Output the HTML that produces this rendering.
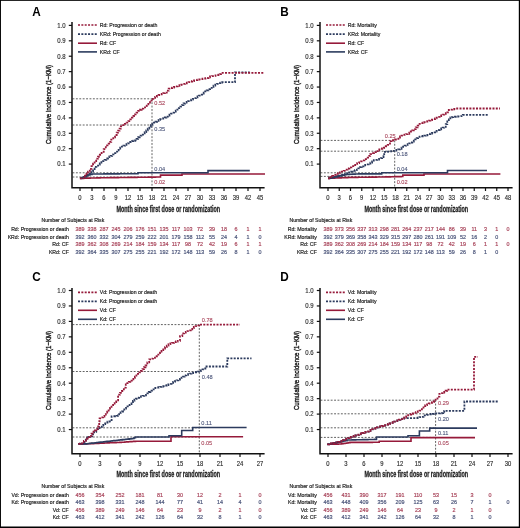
<!DOCTYPE html>
<html><head><meta charset="utf-8"><style>
html,body{margin:0;padding:0;background:#fff;}
svg{display:block;filter:blur(0.3px);}
svg text{font-family:"Liberation Sans", sans-serif;}
svg text.s{stroke-width:0.18;paint-order:stroke;}
</style></head><body>
<svg width="520" height="528" viewBox="0 0 520 528">
<rect x="0" y="0" width="520" height="528" fill="#fff"/>
<g transform="translate(0 0)">
<text transform="translate(32.3 15.5) scale(0.92 1)" x="0" y="0" font-size="12.8" font-weight="bold" fill="#000" style="stroke-width:0" class="s" stroke="#000">A</text>
<line x1="72.5" y1="98.8" x2="152" y2="98.8" stroke="#626262" stroke-width="1" stroke-dasharray="1.9 1.5"/>
<line x1="72.5" y1="125" x2="152" y2="125" stroke="#626262" stroke-width="1" stroke-dasharray="1.9 1.5"/>
<line x1="72.5" y1="172.8" x2="152" y2="172.8" stroke="#626262" stroke-width="1" stroke-dasharray="1.9 1.5"/>
<line x1="72.5" y1="177" x2="152" y2="177" stroke="#626262" stroke-width="1" stroke-dasharray="1.9 1.5"/>
<line x1="152" y1="98.8" x2="152" y2="187" stroke="#626262" stroke-width="1" stroke-dasharray="1.9 1.5"/>
<path d="M80 178.3H81.67V178.26H83.33V178.22H85V178.18H86.67V178.13H88.33V178.09H90V178.05H91.67V178.01H93.33V177.97H95V177.93H96.67V177.88H98.33V177.84H100V177.8H101.68V177.78H103.36V177.76H105.04V177.73H106.72V177.71H108.4V177.69H110.08V177.67H111.76V177.64H113.44V177.62H115.12V177.6H116.81V177.58H118.49V177.56H120.17V177.53H121.85V177.51H123.53V177.49H125.21V177.47H126.89V177.44H128.57V177.42H130.25V177.4H131.93V177.38H133.61V177.36H135.29V177.33H136.97V177.31H138.65V177.29H140.33V177.27H142.01V177.24H143.69V177.22H145.38V177.2H147.06V177.18H148.74V177.16H150.42V177.13H152.1V177.11H153.78V177.09H155.46V177.07H157.14V177.04H158.82V177.02H160.5V177V175.1H182V174H265" fill="none" stroke="#961a3a" stroke-width="1.6"/>
<path d="M80 178.3H82V177.55H84V176.8H86V175.9H88V175H90V174.5H92V174H93.7V173.99H95.41V173.98H97.11V173.97H98.81V173.96H100.52V173.94H102.22V173.93H103.93V173.92H105.63V173.91H107.33V173.9H109.04V173.89H110.74V173.88H112.44V173.87H114.15V173.86H115.85V173.84H117.56V173.83H119.26V173.82H120.96V173.81H122.67V173.8H124.37V173.79H126.07V173.78H127.78V173.77H129.48V173.76H131.19V173.74H132.89V173.73H134.59V173.72H136.3V173.71H138V173.7V172.8H208V170.6H249.8" fill="none" stroke="#2c3b5e" stroke-width="1.6"/>
<path d="M80 178.3H81.77V177.57H83.53V176.83H85.3V176.1H86.85V174.93H88.4V173.75H89.95V172.57H91.5V171.4H93.05V169.1H94.6V166.8H96.33V165.7H98.07V164.6H99.8V163.5H101.4V162.27H103V161.03H104.6V159.8H106.3V158.5H108V157.2H109.4V156.5H110.8V155.8H112.15V154.45H113.5V153.1H115.35V151.7H117.2V150.3H118.6V148.5H120.2V147.55H121.8V146.6H123.45V145.7H125.1V144.8H126.45V144.1H127.8V143.4H130.2V142H132V141.1H133.5V140.75H135V140.4H136.57V138.83H138.13V137.27H139.7V135.7H141.37V134.53H143.03V133.37H144.7V132.2H146.23V130.4H147.77V128.6H149.3V126.8H150.85V125.25H152.4V123.7H153.95V122.72H155.5V121.75H157.05V120.78H158.6V119.8H160.15V119.22H161.7V118.65H163.25V118.08H164.8V117.5H166.35V116.53H167.9V115.55H169.45V114.57H171V113.6H172.57V112.62H174.15V111.65H175.73V110.67H177.3V109.7H178.85V108.15H180.4V106.6H181.95V105.05H183.5V103.5H185.05V102.72H186.6V101.95H188.15V101.18H189.7V100.4H191.26V99.62H192.82V98.84H194.38V98.06H195.94V97.28H197.5V96.5H199.05V95.53H200.6V94.55H202.15V93.57H203.7V92.6H205.2V91.45H206.7V90.3H208.4V89.12H210.1V87.95H211.8V86.77H213.5V85.6H215.27V84.77H217.03V83.93H218.8V83.1H220.5V82.65H222.2V82.2H235V72.4H249.8" fill="none" stroke="#2c3b5e" stroke-width="1.8" stroke-dasharray="2 1.3"/>
<path d="M79.8 178.4H81.65V178.25H83.5V178.1H85V175.6H86.5V173.6H88V171.6H89.75V168.9H91.5V166.2H93.07V163.7H94.63V161.2H96.2V158.7H98V156.73H99.8V154.77H101.6V152.8H103.7V149.1H105.8V145.4H107.5V143.65H109.2V141.9H111.25V139.6H113.3V137.3H115V135H116.7V132.7H118.15V130.7H119.6V128.7H120.8V126.3H123.1V125.2H124.83V123.87H126.57V122.53H128.3V121.2H130.3V119.4H131.86V117.7H133.42V116H134.98V114.3H136.54V112.6H138.1V110.9H139.85V109.73H141.6V108.55H143.35V107.38H145.1V106.2H146.72V104.35H148.35V102.5H149.97V100.65H151.6V98.8H153.35V97.85H155.1V96.9H156.85V95.95H158.6V95H160.15V94.4H161.7V93.8H163.25V93.2H164.8V92.6H166.75V90.65H168.7V88.7H170.45V88.12H172.2V87.55H173.95V86.98H175.7V86.4H177.56V85.78H179.42V85.16H181.28V84.54H183.14V83.92H185V83.3H186.8V82.72H188.6V82.14H190.4V81.56H192.2V80.98H194V80.4H195.75V80.05H197.5V79.7H199.25V79.35H201V79H202.5V78.75H204V78.5H205.5V78.25H207V78H208.5V77.25H210V76.5H212V76.15H214V75.8H215.5V75.4H217V75H218.5V74.6H220V74.2H221V72.8H264" fill="none" stroke="#961a3a" stroke-width="1.8" stroke-dasharray="2 1.3"/>
<path d="M72 22V187.7H264.6" fill="none" stroke="#111" stroke-width="1.5"/>
<line x1="68.8" y1="164.09" x2="72" y2="164.09" stroke="#111" stroke-width="1.2"/>
<text transform="translate(65.7 166.39) scale(0.91 1)" x="0" y="0" font-size="6.6" text-anchor="end" fill="#2a2a2a" style="stroke-width:0.14" class="s" stroke="#2a2a2a">0.1</text>
<line x1="68.8" y1="148.68" x2="72" y2="148.68" stroke="#111" stroke-width="1.2"/>
<text transform="translate(65.7 150.98) scale(0.91 1)" x="0" y="0" font-size="6.6" text-anchor="end" fill="#2a2a2a" style="stroke-width:0.14" class="s" stroke="#2a2a2a">0.2</text>
<line x1="68.8" y1="133.27" x2="72" y2="133.27" stroke="#111" stroke-width="1.2"/>
<text transform="translate(65.7 135.57) scale(0.91 1)" x="0" y="0" font-size="6.6" text-anchor="end" fill="#2a2a2a" style="stroke-width:0.14" class="s" stroke="#2a2a2a">0.3</text>
<line x1="68.8" y1="117.86" x2="72" y2="117.86" stroke="#111" stroke-width="1.2"/>
<text transform="translate(65.7 120.16) scale(0.91 1)" x="0" y="0" font-size="6.6" text-anchor="end" fill="#2a2a2a" style="stroke-width:0.14" class="s" stroke="#2a2a2a">0.4</text>
<line x1="68.8" y1="102.45" x2="72" y2="102.45" stroke="#111" stroke-width="1.2"/>
<text transform="translate(65.7 104.75) scale(0.91 1)" x="0" y="0" font-size="6.6" text-anchor="end" fill="#2a2a2a" style="stroke-width:0.14" class="s" stroke="#2a2a2a">0.5</text>
<line x1="68.8" y1="87.04" x2="72" y2="87.04" stroke="#111" stroke-width="1.2"/>
<text transform="translate(65.7 89.34) scale(0.91 1)" x="0" y="0" font-size="6.6" text-anchor="end" fill="#2a2a2a" style="stroke-width:0.14" class="s" stroke="#2a2a2a">0.6</text>
<line x1="68.8" y1="71.63" x2="72" y2="71.63" stroke="#111" stroke-width="1.2"/>
<text transform="translate(65.7 73.93) scale(0.91 1)" x="0" y="0" font-size="6.6" text-anchor="end" fill="#2a2a2a" style="stroke-width:0.14" class="s" stroke="#2a2a2a">0.7</text>
<line x1="68.8" y1="56.22" x2="72" y2="56.22" stroke="#111" stroke-width="1.2"/>
<text transform="translate(65.7 58.52) scale(0.91 1)" x="0" y="0" font-size="6.6" text-anchor="end" fill="#2a2a2a" style="stroke-width:0.14" class="s" stroke="#2a2a2a">0.8</text>
<line x1="68.8" y1="40.81" x2="72" y2="40.81" stroke="#111" stroke-width="1.2"/>
<text transform="translate(65.7 43.11) scale(0.91 1)" x="0" y="0" font-size="6.6" text-anchor="end" fill="#2a2a2a" style="stroke-width:0.14" class="s" stroke="#2a2a2a">0.9</text>
<line x1="68.8" y1="25.4" x2="72" y2="25.4" stroke="#111" stroke-width="1.2"/>
<text transform="translate(65.7 27.7) scale(0.91 1)" x="0" y="0" font-size="6.6" text-anchor="end" fill="#2a2a2a" style="stroke-width:0.14" class="s" stroke="#2a2a2a">1.0</text>
<line x1="80" y1="187.7" x2="80" y2="191" stroke="#111" stroke-width="1.2"/>
<text transform="translate(80 200.1) scale(0.9 1)" x="0" y="0" font-size="6.5" text-anchor="middle" fill="#2a2a2a" style="stroke-width:0.14" class="s" stroke="#2a2a2a">0</text>
<line x1="92" y1="187.7" x2="92" y2="191" stroke="#111" stroke-width="1.2"/>
<text transform="translate(92 200.1) scale(0.9 1)" x="0" y="0" font-size="6.5" text-anchor="middle" fill="#2a2a2a" style="stroke-width:0.14" class="s" stroke="#2a2a2a">3</text>
<line x1="104" y1="187.7" x2="104" y2="191" stroke="#111" stroke-width="1.2"/>
<text transform="translate(104 200.1) scale(0.9 1)" x="0" y="0" font-size="6.5" text-anchor="middle" fill="#2a2a2a" style="stroke-width:0.14" class="s" stroke="#2a2a2a">6</text>
<line x1="116" y1="187.7" x2="116" y2="191" stroke="#111" stroke-width="1.2"/>
<text transform="translate(116 200.1) scale(0.9 1)" x="0" y="0" font-size="6.5" text-anchor="middle" fill="#2a2a2a" style="stroke-width:0.14" class="s" stroke="#2a2a2a">9</text>
<line x1="128" y1="187.7" x2="128" y2="191" stroke="#111" stroke-width="1.2"/>
<text transform="translate(128 200.1) scale(0.9 1)" x="0" y="0" font-size="6.5" text-anchor="middle" fill="#2a2a2a" style="stroke-width:0.14" class="s" stroke="#2a2a2a">12</text>
<line x1="140" y1="187.7" x2="140" y2="191" stroke="#111" stroke-width="1.2"/>
<text transform="translate(140 200.1) scale(0.9 1)" x="0" y="0" font-size="6.5" text-anchor="middle" fill="#2a2a2a" style="stroke-width:0.14" class="s" stroke="#2a2a2a">15</text>
<line x1="152" y1="187.7" x2="152" y2="191" stroke="#111" stroke-width="1.2"/>
<text transform="translate(152 200.1) scale(0.9 1)" x="0" y="0" font-size="6.5" text-anchor="middle" fill="#2a2a2a" style="stroke-width:0.14" class="s" stroke="#2a2a2a">18</text>
<line x1="164" y1="187.7" x2="164" y2="191" stroke="#111" stroke-width="1.2"/>
<text transform="translate(164 200.1) scale(0.9 1)" x="0" y="0" font-size="6.5" text-anchor="middle" fill="#2a2a2a" style="stroke-width:0.14" class="s" stroke="#2a2a2a">21</text>
<line x1="176" y1="187.7" x2="176" y2="191" stroke="#111" stroke-width="1.2"/>
<text transform="translate(176 200.1) scale(0.9 1)" x="0" y="0" font-size="6.5" text-anchor="middle" fill="#2a2a2a" style="stroke-width:0.14" class="s" stroke="#2a2a2a">24</text>
<line x1="188" y1="187.7" x2="188" y2="191" stroke="#111" stroke-width="1.2"/>
<text transform="translate(188 200.1) scale(0.9 1)" x="0" y="0" font-size="6.5" text-anchor="middle" fill="#2a2a2a" style="stroke-width:0.14" class="s" stroke="#2a2a2a">27</text>
<line x1="200" y1="187.7" x2="200" y2="191" stroke="#111" stroke-width="1.2"/>
<text transform="translate(200 200.1) scale(0.9 1)" x="0" y="0" font-size="6.5" text-anchor="middle" fill="#2a2a2a" style="stroke-width:0.14" class="s" stroke="#2a2a2a">30</text>
<line x1="212" y1="187.7" x2="212" y2="191" stroke="#111" stroke-width="1.2"/>
<text transform="translate(212 200.1) scale(0.9 1)" x="0" y="0" font-size="6.5" text-anchor="middle" fill="#2a2a2a" style="stroke-width:0.14" class="s" stroke="#2a2a2a">33</text>
<line x1="224" y1="187.7" x2="224" y2="191" stroke="#111" stroke-width="1.2"/>
<text transform="translate(224 200.1) scale(0.9 1)" x="0" y="0" font-size="6.5" text-anchor="middle" fill="#2a2a2a" style="stroke-width:0.14" class="s" stroke="#2a2a2a">36</text>
<line x1="236" y1="187.7" x2="236" y2="191" stroke="#111" stroke-width="1.2"/>
<text transform="translate(236 200.1) scale(0.9 1)" x="0" y="0" font-size="6.5" text-anchor="middle" fill="#2a2a2a" style="stroke-width:0.14" class="s" stroke="#2a2a2a">39</text>
<line x1="248" y1="187.7" x2="248" y2="191" stroke="#111" stroke-width="1.2"/>
<text transform="translate(248 200.1) scale(0.9 1)" x="0" y="0" font-size="6.5" text-anchor="middle" fill="#2a2a2a" style="stroke-width:0.14" class="s" stroke="#2a2a2a">42</text>
<line x1="260" y1="187.7" x2="260" y2="191" stroke="#111" stroke-width="1.2"/>
<text transform="translate(260 200.1) scale(0.9 1)" x="0" y="0" font-size="6.5" text-anchor="middle" fill="#2a2a2a" style="stroke-width:0.14" class="s" stroke="#2a2a2a">45</text>
<text x="116.4" y="211.5" font-size="8.8" font-weight="bold" fill="#222" style="stroke-width:0.3" textLength="103.8" lengthAdjust="spacingAndGlyphs" class="s" stroke="#222">Month since first dose or randomization</text>
<text transform="translate(50.5 144.1) rotate(-90)" x="0" y="0" font-size="7.9" fill="#222" style="stroke-width:0.4" textLength="79.2" lengthAdjust="spacingAndGlyphs" class="s" stroke="#222">Cumulative incidence (1&#8722;KM)</text>
<line x1="78" y1="25.0" x2="97" y2="25.0" stroke="#961a3a" stroke-width="1.7" stroke-dasharray="2.0 1.35"/>
<text x="99.7" y="26.85" font-size="5.2" fill="#262626" class="s" stroke="#262626">Rd: Progression or death</text>
<line x1="78" y1="34.2" x2="97" y2="34.2" stroke="#2c3b5e" stroke-width="1.7" stroke-dasharray="2.0 1.35"/>
<text x="99.7" y="36.05" font-size="5.2" fill="#262626" class="s" stroke="#262626">KRd: Progression or death</text>
<line x1="78" y1="43.2" x2="97" y2="43.2" stroke="#961a3a" stroke-width="1.6"/>
<text x="99.7" y="45.05" font-size="5.2" fill="#262626" class="s" stroke="#262626">Rd: CF</text>
<line x1="78" y1="51.9" x2="97" y2="51.9" stroke="#2c3b5e" stroke-width="1.6"/>
<text x="99.7" y="53.75" font-size="5.2" fill="#262626" class="s" stroke="#262626">KRd: CF</text>
<text x="154.3" y="105.2" font-size="5.6" fill="#a8445a" style="stroke-width:0.1" class="s" stroke="#a8445a">0.52</text>
<text x="154.3" y="130.8" font-size="5.6" fill="#4a5479" style="stroke-width:0.1" class="s" stroke="#4a5479">0.35</text>
<text x="154.3" y="170.6" font-size="5.6" fill="#4a5479" style="stroke-width:0.1" class="s" stroke="#4a5479">0.04</text>
<text x="154.3" y="183.6" font-size="5.6" fill="#a8445a" style="stroke-width:0.1" class="s" stroke="#a8445a">0.02</text>
<text x="41.4" y="221.8" font-size="5.2" fill="#262626" class="s" stroke="#262626">Number of Subjects at Risk</text>
<text x="68.8" y="231.3" font-size="5.2" text-anchor="end" fill="#262626" class="s" stroke="#262626">Rd: Progression or death</text>
<text x="80" y="231.3" font-size="5.4" text-anchor="middle" fill="#a8445a" class="s" stroke="#a8445a">389</text>
<text x="92" y="231.3" font-size="5.4" text-anchor="middle" fill="#a8445a" class="s" stroke="#a8445a">338</text>
<text x="104" y="231.3" font-size="5.4" text-anchor="middle" fill="#a8445a" class="s" stroke="#a8445a">287</text>
<text x="116" y="231.3" font-size="5.4" text-anchor="middle" fill="#a8445a" class="s" stroke="#a8445a">245</text>
<text x="128" y="231.3" font-size="5.4" text-anchor="middle" fill="#a8445a" class="s" stroke="#a8445a">206</text>
<text x="140" y="231.3" font-size="5.4" text-anchor="middle" fill="#a8445a" class="s" stroke="#a8445a">176</text>
<text x="152" y="231.3" font-size="5.4" text-anchor="middle" fill="#a8445a" class="s" stroke="#a8445a">151</text>
<text x="164" y="231.3" font-size="5.4" text-anchor="middle" fill="#a8445a" class="s" stroke="#a8445a">135</text>
<text x="176" y="231.3" font-size="5.4" text-anchor="middle" fill="#a8445a" class="s" stroke="#a8445a">117</text>
<text x="188" y="231.3" font-size="5.4" text-anchor="middle" fill="#a8445a" class="s" stroke="#a8445a">103</text>
<text x="200" y="231.3" font-size="5.4" text-anchor="middle" fill="#a8445a" class="s" stroke="#a8445a">72</text>
<text x="212" y="231.3" font-size="5.4" text-anchor="middle" fill="#a8445a" class="s" stroke="#a8445a">39</text>
<text x="224" y="231.3" font-size="5.4" text-anchor="middle" fill="#a8445a" class="s" stroke="#a8445a">18</text>
<text x="236" y="231.3" font-size="5.4" text-anchor="middle" fill="#a8445a" class="s" stroke="#a8445a">6</text>
<text x="248" y="231.3" font-size="5.4" text-anchor="middle" fill="#a8445a" class="s" stroke="#a8445a">1</text>
<text x="260" y="231.3" font-size="5.4" text-anchor="middle" fill="#a8445a" class="s" stroke="#a8445a">1</text>
<text x="68.8" y="238.6" font-size="5.2" text-anchor="end" fill="#262626" class="s" stroke="#262626">KRd: Progression or death</text>
<text x="80" y="238.6" font-size="5.4" text-anchor="middle" fill="#4a5479" class="s" stroke="#4a5479">392</text>
<text x="92" y="238.6" font-size="5.4" text-anchor="middle" fill="#4a5479" class="s" stroke="#4a5479">360</text>
<text x="104" y="238.6" font-size="5.4" text-anchor="middle" fill="#4a5479" class="s" stroke="#4a5479">332</text>
<text x="116" y="238.6" font-size="5.4" text-anchor="middle" fill="#4a5479" class="s" stroke="#4a5479">304</text>
<text x="128" y="238.6" font-size="5.4" text-anchor="middle" fill="#4a5479" class="s" stroke="#4a5479">279</text>
<text x="140" y="238.6" font-size="5.4" text-anchor="middle" fill="#4a5479" class="s" stroke="#4a5479">259</text>
<text x="152" y="238.6" font-size="5.4" text-anchor="middle" fill="#4a5479" class="s" stroke="#4a5479">222</text>
<text x="164" y="238.6" font-size="5.4" text-anchor="middle" fill="#4a5479" class="s" stroke="#4a5479">201</text>
<text x="176" y="238.6" font-size="5.4" text-anchor="middle" fill="#4a5479" class="s" stroke="#4a5479">179</text>
<text x="188" y="238.6" font-size="5.4" text-anchor="middle" fill="#4a5479" class="s" stroke="#4a5479">158</text>
<text x="200" y="238.6" font-size="5.4" text-anchor="middle" fill="#4a5479" class="s" stroke="#4a5479">112</text>
<text x="212" y="238.6" font-size="5.4" text-anchor="middle" fill="#4a5479" class="s" stroke="#4a5479">55</text>
<text x="224" y="238.6" font-size="5.4" text-anchor="middle" fill="#4a5479" class="s" stroke="#4a5479">24</text>
<text x="236" y="238.6" font-size="5.4" text-anchor="middle" fill="#4a5479" class="s" stroke="#4a5479">4</text>
<text x="248" y="238.6" font-size="5.4" text-anchor="middle" fill="#4a5479" class="s" stroke="#4a5479">1</text>
<text x="260" y="238.6" font-size="5.4" text-anchor="middle" fill="#4a5479" class="s" stroke="#4a5479">0</text>
<text x="68.8" y="246.3" font-size="5.2" text-anchor="end" fill="#262626" class="s" stroke="#262626">Rd: CF</text>
<text x="80" y="246.3" font-size="5.4" text-anchor="middle" fill="#a8445a" class="s" stroke="#a8445a">389</text>
<text x="92" y="246.3" font-size="5.4" text-anchor="middle" fill="#a8445a" class="s" stroke="#a8445a">362</text>
<text x="104" y="246.3" font-size="5.4" text-anchor="middle" fill="#a8445a" class="s" stroke="#a8445a">308</text>
<text x="116" y="246.3" font-size="5.4" text-anchor="middle" fill="#a8445a" class="s" stroke="#a8445a">269</text>
<text x="128" y="246.3" font-size="5.4" text-anchor="middle" fill="#a8445a" class="s" stroke="#a8445a">214</text>
<text x="140" y="246.3" font-size="5.4" text-anchor="middle" fill="#a8445a" class="s" stroke="#a8445a">184</text>
<text x="152" y="246.3" font-size="5.4" text-anchor="middle" fill="#a8445a" class="s" stroke="#a8445a">159</text>
<text x="164" y="246.3" font-size="5.4" text-anchor="middle" fill="#a8445a" class="s" stroke="#a8445a">134</text>
<text x="176" y="246.3" font-size="5.4" text-anchor="middle" fill="#a8445a" class="s" stroke="#a8445a">117</text>
<text x="188" y="246.3" font-size="5.4" text-anchor="middle" fill="#a8445a" class="s" stroke="#a8445a">98</text>
<text x="200" y="246.3" font-size="5.4" text-anchor="middle" fill="#a8445a" class="s" stroke="#a8445a">72</text>
<text x="212" y="246.3" font-size="5.4" text-anchor="middle" fill="#a8445a" class="s" stroke="#a8445a">42</text>
<text x="224" y="246.3" font-size="5.4" text-anchor="middle" fill="#a8445a" class="s" stroke="#a8445a">19</text>
<text x="236" y="246.3" font-size="5.4" text-anchor="middle" fill="#a8445a" class="s" stroke="#a8445a">6</text>
<text x="248" y="246.3" font-size="5.4" text-anchor="middle" fill="#a8445a" class="s" stroke="#a8445a">1</text>
<text x="260" y="246.3" font-size="5.4" text-anchor="middle" fill="#a8445a" class="s" stroke="#a8445a">1</text>
<text x="68.8" y="254" font-size="5.2" text-anchor="end" fill="#262626" class="s" stroke="#262626">KRd: CF</text>
<text x="80" y="254" font-size="5.4" text-anchor="middle" fill="#4a5479" class="s" stroke="#4a5479">392</text>
<text x="92" y="254" font-size="5.4" text-anchor="middle" fill="#4a5479" class="s" stroke="#4a5479">364</text>
<text x="104" y="254" font-size="5.4" text-anchor="middle" fill="#4a5479" class="s" stroke="#4a5479">335</text>
<text x="116" y="254" font-size="5.4" text-anchor="middle" fill="#4a5479" class="s" stroke="#4a5479">307</text>
<text x="128" y="254" font-size="5.4" text-anchor="middle" fill="#4a5479" class="s" stroke="#4a5479">275</text>
<text x="140" y="254" font-size="5.4" text-anchor="middle" fill="#4a5479" class="s" stroke="#4a5479">255</text>
<text x="152" y="254" font-size="5.4" text-anchor="middle" fill="#4a5479" class="s" stroke="#4a5479">221</text>
<text x="164" y="254" font-size="5.4" text-anchor="middle" fill="#4a5479" class="s" stroke="#4a5479">192</text>
<text x="176" y="254" font-size="5.4" text-anchor="middle" fill="#4a5479" class="s" stroke="#4a5479">172</text>
<text x="188" y="254" font-size="5.4" text-anchor="middle" fill="#4a5479" class="s" stroke="#4a5479">148</text>
<text x="200" y="254" font-size="5.4" text-anchor="middle" fill="#4a5479" class="s" stroke="#4a5479">113</text>
<text x="212" y="254" font-size="5.4" text-anchor="middle" fill="#4a5479" class="s" stroke="#4a5479">59</text>
<text x="224" y="254" font-size="5.4" text-anchor="middle" fill="#4a5479" class="s" stroke="#4a5479">26</text>
<text x="236" y="254" font-size="5.4" text-anchor="middle" fill="#4a5479" class="s" stroke="#4a5479">8</text>
<text x="248" y="254" font-size="5.4" text-anchor="middle" fill="#4a5479" class="s" stroke="#4a5479">1</text>
<text x="260" y="254" font-size="5.4" text-anchor="middle" fill="#4a5479" class="s" stroke="#4a5479">0</text>
</g>
<g transform="translate(248 0)">
<text transform="translate(32.3 15.5) scale(0.92 1)" x="0" y="0" font-size="12.8" font-weight="bold" fill="#000" style="stroke-width:0" class="s" stroke="#000">B</text>
<line x1="72.5" y1="140.4" x2="146.7" y2="140.4" stroke="#626262" stroke-width="1" stroke-dasharray="1.9 1.5"/>
<line x1="72.5" y1="151.2" x2="146.7" y2="151.2" stroke="#626262" stroke-width="1" stroke-dasharray="1.9 1.5"/>
<line x1="72.5" y1="172.8" x2="146.7" y2="172.8" stroke="#626262" stroke-width="1" stroke-dasharray="1.9 1.5"/>
<line x1="72.5" y1="176.4" x2="146.7" y2="176.4" stroke="#626262" stroke-width="1" stroke-dasharray="1.9 1.5"/>
<line x1="146.7" y1="140.4" x2="146.7" y2="187" stroke="#626262" stroke-width="1" stroke-dasharray="1.9 1.5"/>
<path d="M80 178.3H81.64V178.24H83.29V178.17H84.93V178.11H86.57V178.04H88.21V177.98H89.86V177.91H91.5V177.85H93.14V177.79H94.79V177.72H96.43V177.66H98.07V177.59H99.71V177.53H101.36V177.46H103V177.4H104.71V177.38H106.41V177.36H108.12V177.33H109.82V177.31H111.53V177.29H113.23V177.27H114.94V177.24H116.64V177.22H118.35V177.2H120.06V177.18H121.76V177.16H123.47V177.13H125.17V177.11H126.88V177.09H128.58V177.07H130.29V177.04H131.99V177.02H133.7V177H135.46V176.96H137.22V176.92H138.97V176.88H140.73V176.83H142.49V176.79H144.25V176.75H146.01V176.71H147.77V176.67H149.53V176.62H151.28V176.58H153.04V176.54H154.8V176.5V175.1H176V174H252.4" fill="none" stroke="#961a3a" stroke-width="1.6"/>
<path d="M80 178.3H81.64V177.95H83.27V177.59H84.91V177.24H86.55V176.88H88.18V176.53H89.82V176.17H91.45V175.82H93.09V175.46H94.73V175.11H96.36V174.75H98V174.4H99.8V174.33H101.6V174.26H103.4V174.19H105.2V174.11H107V174.04H108.8V173.97H110.6V173.9H133.7V172.8H199.5V170.5H239" fill="none" stroke="#2c3b5e" stroke-width="1.6"/>
<path d="M80 178.3H81.58V177.95H83.17V177.6H84.75V177.25H86.33V176.9H87.92V176.55H89.5V176.2H91.04V175.72H92.58V175.24H94.12V174.76H95.66V174.28H97.2V173.8H99.15V173.05H101.1V172.3H103V171.55H104.9V170.8H106.85V170.2H108.8V169.6H110.4V168.4H112V167.2H113.75V166.3H115.5V165.4H117.2V164.9H118.9V164.4H120.65V163.55H122.4V162.7H124.1V161.45H125.8V160.2H127.55V159.85H129.3V159.5H131.05V158.85H132.8V158.2H134.15V157.15H135.5V156.1H136.2V153.3H136.9V151.9H138.3V151.75H139.7V151.6H141.45V151.4H143.2V151.2H144.9V150.85H146.6V150.5H148.4V149.93H150.2V149.37H152V148.8H153.53V147.77H155.07V146.73H156.6V145.7H158.13V144.93H159.67V144.17H161.2V143.4H162.73V142.5H164.27V141.6H165.8V140.7H167.23V139.43H168.67V138.17H170.1V136.9H171.64V136.6H173.18V136.3H174.72V136H176.26V135.7H177.8V135.4H179.34V134.78H180.88V134.16H182.42V133.54H183.96V132.92H185.5V132.3H187.04V131.54H188.58V130.78H190.12V130.02H191.66V129.26H193.2V128.5H194.7V127.7H196.2V126.9H197.75V124.2H199.3V121.5H200.85V119.45H202.4V117.4H203.92V117.18H205.45V116.95H206.97V116.72H208.5V116.5H210.07V116.35H211.65V116.2H213.23V116.05H214.8V115.9V114.9H241" fill="none" stroke="#2c3b5e" stroke-width="1.8" stroke-dasharray="2 1.3"/>
<path d="M80 178.3H82.1V177.05H84.2V175.8H86.1V174.8H88V173.8H89.9V173.05H91.8V172.3H93.75V171.55H95.7V170.8H97.6V169.65H99.5V168.5H101.45V167.35H103.4V166.2H105.3V165H107.2V163.8H109.15V163.05H111.1V162.3H113V161.35H114.9V160.4H116.45V159.05H118V157.7H120.1V155.95H122.2V154.2H124.1V153.15H126V152.1H127.9V151.05H129.8V150H131.3V149.4H132.8V148.8H134.3V148.2H135.8V147.6H137.75V146.25H139.7V144.9H142V141.1H143.5V140.65H145V140.2H146.95V139.5H148.9V138.8H150.45V137.65H152V136.5H153.5V135.7H155V134.9H156.57V134.53H158.13V134.17H159.7V133.8H161.25V132.65H162.8V131.5H164.3V130.35H165.8V129.2H167.73V127.4H169.67V125.6H171.6V123.8H173.15V123.22H174.7V122.65H176.25V122.08H177.8V121.5H179.34V121.04H180.88V120.58H182.42V120.12H183.96V119.66H185.5V119.2H187.04V118.44H188.58V117.68H190.12V116.92H191.66V116.16H193.2V115.4H194.72V114.62H196.25V113.85H197.78V113.08H199.3V112.3H200.8V110H202.6V109.62H204.4V109.25H206.2V108.88H208V108.5H252" fill="none" stroke="#961a3a" stroke-width="1.8" stroke-dasharray="2 1.3"/>
<path d="M72 22V187.7H264.6" fill="none" stroke="#111" stroke-width="1.5"/>
<line x1="68.8" y1="164.09" x2="72" y2="164.09" stroke="#111" stroke-width="1.2"/>
<text transform="translate(65.7 166.39) scale(0.91 1)" x="0" y="0" font-size="6.6" text-anchor="end" fill="#2a2a2a" style="stroke-width:0.14" class="s" stroke="#2a2a2a">0.1</text>
<line x1="68.8" y1="148.68" x2="72" y2="148.68" stroke="#111" stroke-width="1.2"/>
<text transform="translate(65.7 150.98) scale(0.91 1)" x="0" y="0" font-size="6.6" text-anchor="end" fill="#2a2a2a" style="stroke-width:0.14" class="s" stroke="#2a2a2a">0.2</text>
<line x1="68.8" y1="133.27" x2="72" y2="133.27" stroke="#111" stroke-width="1.2"/>
<text transform="translate(65.7 135.57) scale(0.91 1)" x="0" y="0" font-size="6.6" text-anchor="end" fill="#2a2a2a" style="stroke-width:0.14" class="s" stroke="#2a2a2a">0.3</text>
<line x1="68.8" y1="117.86" x2="72" y2="117.86" stroke="#111" stroke-width="1.2"/>
<text transform="translate(65.7 120.16) scale(0.91 1)" x="0" y="0" font-size="6.6" text-anchor="end" fill="#2a2a2a" style="stroke-width:0.14" class="s" stroke="#2a2a2a">0.4</text>
<line x1="68.8" y1="102.45" x2="72" y2="102.45" stroke="#111" stroke-width="1.2"/>
<text transform="translate(65.7 104.75) scale(0.91 1)" x="0" y="0" font-size="6.6" text-anchor="end" fill="#2a2a2a" style="stroke-width:0.14" class="s" stroke="#2a2a2a">0.5</text>
<line x1="68.8" y1="87.04" x2="72" y2="87.04" stroke="#111" stroke-width="1.2"/>
<text transform="translate(65.7 89.34) scale(0.91 1)" x="0" y="0" font-size="6.6" text-anchor="end" fill="#2a2a2a" style="stroke-width:0.14" class="s" stroke="#2a2a2a">0.6</text>
<line x1="68.8" y1="71.63" x2="72" y2="71.63" stroke="#111" stroke-width="1.2"/>
<text transform="translate(65.7 73.93) scale(0.91 1)" x="0" y="0" font-size="6.6" text-anchor="end" fill="#2a2a2a" style="stroke-width:0.14" class="s" stroke="#2a2a2a">0.7</text>
<line x1="68.8" y1="56.22" x2="72" y2="56.22" stroke="#111" stroke-width="1.2"/>
<text transform="translate(65.7 58.52) scale(0.91 1)" x="0" y="0" font-size="6.6" text-anchor="end" fill="#2a2a2a" style="stroke-width:0.14" class="s" stroke="#2a2a2a">0.8</text>
<line x1="68.8" y1="40.81" x2="72" y2="40.81" stroke="#111" stroke-width="1.2"/>
<text transform="translate(65.7 43.11) scale(0.91 1)" x="0" y="0" font-size="6.6" text-anchor="end" fill="#2a2a2a" style="stroke-width:0.14" class="s" stroke="#2a2a2a">0.9</text>
<line x1="68.8" y1="25.4" x2="72" y2="25.4" stroke="#111" stroke-width="1.2"/>
<text transform="translate(65.7 27.7) scale(0.91 1)" x="0" y="0" font-size="6.6" text-anchor="end" fill="#2a2a2a" style="stroke-width:0.14" class="s" stroke="#2a2a2a">1.0</text>
<line x1="80" y1="187.7" x2="80" y2="191" stroke="#111" stroke-width="1.2"/>
<text transform="translate(80 200.1) scale(0.9 1)" x="0" y="0" font-size="6.5" text-anchor="middle" fill="#2a2a2a" style="stroke-width:0.14" class="s" stroke="#2a2a2a">0</text>
<line x1="91.25" y1="187.7" x2="91.25" y2="191" stroke="#111" stroke-width="1.2"/>
<text transform="translate(91.25 200.1) scale(0.9 1)" x="0" y="0" font-size="6.5" text-anchor="middle" fill="#2a2a2a" style="stroke-width:0.14" class="s" stroke="#2a2a2a">3</text>
<line x1="102.5" y1="187.7" x2="102.5" y2="191" stroke="#111" stroke-width="1.2"/>
<text transform="translate(102.5 200.1) scale(0.9 1)" x="0" y="0" font-size="6.5" text-anchor="middle" fill="#2a2a2a" style="stroke-width:0.14" class="s" stroke="#2a2a2a">6</text>
<line x1="113.75" y1="187.7" x2="113.75" y2="191" stroke="#111" stroke-width="1.2"/>
<text transform="translate(113.75 200.1) scale(0.9 1)" x="0" y="0" font-size="6.5" text-anchor="middle" fill="#2a2a2a" style="stroke-width:0.14" class="s" stroke="#2a2a2a">9</text>
<line x1="125" y1="187.7" x2="125" y2="191" stroke="#111" stroke-width="1.2"/>
<text transform="translate(125 200.1) scale(0.9 1)" x="0" y="0" font-size="6.5" text-anchor="middle" fill="#2a2a2a" style="stroke-width:0.14" class="s" stroke="#2a2a2a">12</text>
<line x1="136.25" y1="187.7" x2="136.25" y2="191" stroke="#111" stroke-width="1.2"/>
<text transform="translate(136.25 200.1) scale(0.9 1)" x="0" y="0" font-size="6.5" text-anchor="middle" fill="#2a2a2a" style="stroke-width:0.14" class="s" stroke="#2a2a2a">15</text>
<line x1="147.5" y1="187.7" x2="147.5" y2="191" stroke="#111" stroke-width="1.2"/>
<text transform="translate(147.5 200.1) scale(0.9 1)" x="0" y="0" font-size="6.5" text-anchor="middle" fill="#2a2a2a" style="stroke-width:0.14" class="s" stroke="#2a2a2a">18</text>
<line x1="158.75" y1="187.7" x2="158.75" y2="191" stroke="#111" stroke-width="1.2"/>
<text transform="translate(158.75 200.1) scale(0.9 1)" x="0" y="0" font-size="6.5" text-anchor="middle" fill="#2a2a2a" style="stroke-width:0.14" class="s" stroke="#2a2a2a">21</text>
<line x1="170" y1="187.7" x2="170" y2="191" stroke="#111" stroke-width="1.2"/>
<text transform="translate(170 200.1) scale(0.9 1)" x="0" y="0" font-size="6.5" text-anchor="middle" fill="#2a2a2a" style="stroke-width:0.14" class="s" stroke="#2a2a2a">24</text>
<line x1="181.25" y1="187.7" x2="181.25" y2="191" stroke="#111" stroke-width="1.2"/>
<text transform="translate(181.25 200.1) scale(0.9 1)" x="0" y="0" font-size="6.5" text-anchor="middle" fill="#2a2a2a" style="stroke-width:0.14" class="s" stroke="#2a2a2a">27</text>
<line x1="192.5" y1="187.7" x2="192.5" y2="191" stroke="#111" stroke-width="1.2"/>
<text transform="translate(192.5 200.1) scale(0.9 1)" x="0" y="0" font-size="6.5" text-anchor="middle" fill="#2a2a2a" style="stroke-width:0.14" class="s" stroke="#2a2a2a">30</text>
<line x1="203.75" y1="187.7" x2="203.75" y2="191" stroke="#111" stroke-width="1.2"/>
<text transform="translate(203.75 200.1) scale(0.9 1)" x="0" y="0" font-size="6.5" text-anchor="middle" fill="#2a2a2a" style="stroke-width:0.14" class="s" stroke="#2a2a2a">33</text>
<line x1="215" y1="187.7" x2="215" y2="191" stroke="#111" stroke-width="1.2"/>
<text transform="translate(215 200.1) scale(0.9 1)" x="0" y="0" font-size="6.5" text-anchor="middle" fill="#2a2a2a" style="stroke-width:0.14" class="s" stroke="#2a2a2a">36</text>
<line x1="226.25" y1="187.7" x2="226.25" y2="191" stroke="#111" stroke-width="1.2"/>
<text transform="translate(226.25 200.1) scale(0.9 1)" x="0" y="0" font-size="6.5" text-anchor="middle" fill="#2a2a2a" style="stroke-width:0.14" class="s" stroke="#2a2a2a">39</text>
<line x1="237.5" y1="187.7" x2="237.5" y2="191" stroke="#111" stroke-width="1.2"/>
<text transform="translate(237.5 200.1) scale(0.9 1)" x="0" y="0" font-size="6.5" text-anchor="middle" fill="#2a2a2a" style="stroke-width:0.14" class="s" stroke="#2a2a2a">42</text>
<line x1="248.75" y1="187.7" x2="248.75" y2="191" stroke="#111" stroke-width="1.2"/>
<text transform="translate(248.75 200.1) scale(0.9 1)" x="0" y="0" font-size="6.5" text-anchor="middle" fill="#2a2a2a" style="stroke-width:0.14" class="s" stroke="#2a2a2a">45</text>
<line x1="260" y1="187.7" x2="260" y2="191" stroke="#111" stroke-width="1.2"/>
<text transform="translate(260 200.1) scale(0.9 1)" x="0" y="0" font-size="6.5" text-anchor="middle" fill="#2a2a2a" style="stroke-width:0.14" class="s" stroke="#2a2a2a">48</text>
<text x="116.4" y="211.5" font-size="8.8" font-weight="bold" fill="#222" style="stroke-width:0.3" textLength="103.8" lengthAdjust="spacingAndGlyphs" class="s" stroke="#222">Month since first dose or randomization</text>
<text transform="translate(50.5 144.1) rotate(-90)" x="0" y="0" font-size="7.9" fill="#222" style="stroke-width:0.4" textLength="79.2" lengthAdjust="spacingAndGlyphs" class="s" stroke="#222">Cumulative incidence (1&#8722;KM)</text>
<line x1="78" y1="25.0" x2="97" y2="25.0" stroke="#961a3a" stroke-width="1.7" stroke-dasharray="2.0 1.35"/>
<text x="99.7" y="26.85" font-size="5.2" fill="#262626" class="s" stroke="#262626">Rd: Mortality</text>
<line x1="78" y1="34.2" x2="97" y2="34.2" stroke="#2c3b5e" stroke-width="1.7" stroke-dasharray="2.0 1.35"/>
<text x="99.7" y="36.05" font-size="5.2" fill="#262626" class="s" stroke="#262626">KRd: Mortality</text>
<line x1="78" y1="43.2" x2="97" y2="43.2" stroke="#961a3a" stroke-width="1.6"/>
<text x="99.7" y="45.05" font-size="5.2" fill="#262626" class="s" stroke="#262626">Rd: CF</text>
<line x1="78" y1="51.9" x2="97" y2="51.9" stroke="#2c3b5e" stroke-width="1.6"/>
<text x="99.7" y="53.75" font-size="5.2" fill="#262626" class="s" stroke="#262626">KRd: CF</text>
<text x="136.8" y="137.8" font-size="5.6" fill="#a8445a" style="stroke-width:0.1" class="s" stroke="#a8445a">0.25</text>
<text x="148.7" y="156.1" font-size="5.6" fill="#4a5479" style="stroke-width:0.1" class="s" stroke="#4a5479">0.18</text>
<text x="148.7" y="170.6" font-size="5.6" fill="#4a5479" style="stroke-width:0.1" class="s" stroke="#4a5479">0.04</text>
<text x="148.7" y="184" font-size="5.6" fill="#a8445a" style="stroke-width:0.1" class="s" stroke="#a8445a">0.02</text>
<text x="41.4" y="221.8" font-size="5.2" fill="#262626" class="s" stroke="#262626">Number of Subjects at Risk</text>
<text x="68.8" y="231.3" font-size="5.2" text-anchor="end" fill="#262626" class="s" stroke="#262626">Rd: Mortality</text>
<text x="80" y="231.3" font-size="5.4" text-anchor="middle" fill="#a8445a" class="s" stroke="#a8445a">389</text>
<text x="91.25" y="231.3" font-size="5.4" text-anchor="middle" fill="#a8445a" class="s" stroke="#a8445a">373</text>
<text x="102.5" y="231.3" font-size="5.4" text-anchor="middle" fill="#a8445a" class="s" stroke="#a8445a">356</text>
<text x="113.75" y="231.3" font-size="5.4" text-anchor="middle" fill="#a8445a" class="s" stroke="#a8445a">337</text>
<text x="125" y="231.3" font-size="5.4" text-anchor="middle" fill="#a8445a" class="s" stroke="#a8445a">313</text>
<text x="136.25" y="231.3" font-size="5.4" text-anchor="middle" fill="#a8445a" class="s" stroke="#a8445a">298</text>
<text x="147.5" y="231.3" font-size="5.4" text-anchor="middle" fill="#a8445a" class="s" stroke="#a8445a">281</text>
<text x="158.75" y="231.3" font-size="5.4" text-anchor="middle" fill="#a8445a" class="s" stroke="#a8445a">264</text>
<text x="170" y="231.3" font-size="5.4" text-anchor="middle" fill="#a8445a" class="s" stroke="#a8445a">237</text>
<text x="181.25" y="231.3" font-size="5.4" text-anchor="middle" fill="#a8445a" class="s" stroke="#a8445a">217</text>
<text x="192.5" y="231.3" font-size="5.4" text-anchor="middle" fill="#a8445a" class="s" stroke="#a8445a">144</text>
<text x="203.75" y="231.3" font-size="5.4" text-anchor="middle" fill="#a8445a" class="s" stroke="#a8445a">86</text>
<text x="215" y="231.3" font-size="5.4" text-anchor="middle" fill="#a8445a" class="s" stroke="#a8445a">39</text>
<text x="226.25" y="231.3" font-size="5.4" text-anchor="middle" fill="#a8445a" class="s" stroke="#a8445a">11</text>
<text x="237.5" y="231.3" font-size="5.4" text-anchor="middle" fill="#a8445a" class="s" stroke="#a8445a">3</text>
<text x="248.75" y="231.3" font-size="5.4" text-anchor="middle" fill="#a8445a" class="s" stroke="#a8445a">1</text>
<text x="260" y="231.3" font-size="5.4" text-anchor="middle" fill="#a8445a" class="s" stroke="#a8445a">0</text>
<text x="68.8" y="238.6" font-size="5.2" text-anchor="end" fill="#262626" class="s" stroke="#262626">KRd: Mortality</text>
<text x="80" y="238.6" font-size="5.4" text-anchor="middle" fill="#4a5479" class="s" stroke="#4a5479">392</text>
<text x="91.25" y="238.6" font-size="5.4" text-anchor="middle" fill="#4a5479" class="s" stroke="#4a5479">379</text>
<text x="102.5" y="238.6" font-size="5.4" text-anchor="middle" fill="#4a5479" class="s" stroke="#4a5479">369</text>
<text x="113.75" y="238.6" font-size="5.4" text-anchor="middle" fill="#4a5479" class="s" stroke="#4a5479">358</text>
<text x="125" y="238.6" font-size="5.4" text-anchor="middle" fill="#4a5479" class="s" stroke="#4a5479">343</text>
<text x="136.25" y="238.6" font-size="5.4" text-anchor="middle" fill="#4a5479" class="s" stroke="#4a5479">329</text>
<text x="147.5" y="238.6" font-size="5.4" text-anchor="middle" fill="#4a5479" class="s" stroke="#4a5479">315</text>
<text x="158.75" y="238.6" font-size="5.4" text-anchor="middle" fill="#4a5479" class="s" stroke="#4a5479">297</text>
<text x="170" y="238.6" font-size="5.4" text-anchor="middle" fill="#4a5479" class="s" stroke="#4a5479">280</text>
<text x="181.25" y="238.6" font-size="5.4" text-anchor="middle" fill="#4a5479" class="s" stroke="#4a5479">261</text>
<text x="192.5" y="238.6" font-size="5.4" text-anchor="middle" fill="#4a5479" class="s" stroke="#4a5479">191</text>
<text x="203.75" y="238.6" font-size="5.4" text-anchor="middle" fill="#4a5479" class="s" stroke="#4a5479">109</text>
<text x="215" y="238.6" font-size="5.4" text-anchor="middle" fill="#4a5479" class="s" stroke="#4a5479">52</text>
<text x="226.25" y="238.6" font-size="5.4" text-anchor="middle" fill="#4a5479" class="s" stroke="#4a5479">16</text>
<text x="237.5" y="238.6" font-size="5.4" text-anchor="middle" fill="#4a5479" class="s" stroke="#4a5479">2</text>
<text x="248.75" y="238.6" font-size="5.4" text-anchor="middle" fill="#4a5479" class="s" stroke="#4a5479">0</text>
<text x="68.8" y="246.3" font-size="5.2" text-anchor="end" fill="#262626" class="s" stroke="#262626">Rd: CF</text>
<text x="80" y="246.3" font-size="5.4" text-anchor="middle" fill="#a8445a" class="s" stroke="#a8445a">389</text>
<text x="91.25" y="246.3" font-size="5.4" text-anchor="middle" fill="#a8445a" class="s" stroke="#a8445a">362</text>
<text x="102.5" y="246.3" font-size="5.4" text-anchor="middle" fill="#a8445a" class="s" stroke="#a8445a">308</text>
<text x="113.75" y="246.3" font-size="5.4" text-anchor="middle" fill="#a8445a" class="s" stroke="#a8445a">269</text>
<text x="125" y="246.3" font-size="5.4" text-anchor="middle" fill="#a8445a" class="s" stroke="#a8445a">214</text>
<text x="136.25" y="246.3" font-size="5.4" text-anchor="middle" fill="#a8445a" class="s" stroke="#a8445a">184</text>
<text x="147.5" y="246.3" font-size="5.4" text-anchor="middle" fill="#a8445a" class="s" stroke="#a8445a">159</text>
<text x="158.75" y="246.3" font-size="5.4" text-anchor="middle" fill="#a8445a" class="s" stroke="#a8445a">134</text>
<text x="170" y="246.3" font-size="5.4" text-anchor="middle" fill="#a8445a" class="s" stroke="#a8445a">117</text>
<text x="181.25" y="246.3" font-size="5.4" text-anchor="middle" fill="#a8445a" class="s" stroke="#a8445a">98</text>
<text x="192.5" y="246.3" font-size="5.4" text-anchor="middle" fill="#a8445a" class="s" stroke="#a8445a">72</text>
<text x="203.75" y="246.3" font-size="5.4" text-anchor="middle" fill="#a8445a" class="s" stroke="#a8445a">42</text>
<text x="215" y="246.3" font-size="5.4" text-anchor="middle" fill="#a8445a" class="s" stroke="#a8445a">19</text>
<text x="226.25" y="246.3" font-size="5.4" text-anchor="middle" fill="#a8445a" class="s" stroke="#a8445a">6</text>
<text x="237.5" y="246.3" font-size="5.4" text-anchor="middle" fill="#a8445a" class="s" stroke="#a8445a">1</text>
<text x="248.75" y="246.3" font-size="5.4" text-anchor="middle" fill="#a8445a" class="s" stroke="#a8445a">1</text>
<text x="260" y="246.3" font-size="5.4" text-anchor="middle" fill="#a8445a" class="s" stroke="#a8445a">0</text>
<text x="68.8" y="254" font-size="5.2" text-anchor="end" fill="#262626" class="s" stroke="#262626">KRd: CF</text>
<text x="80" y="254" font-size="5.4" text-anchor="middle" fill="#4a5479" class="s" stroke="#4a5479">392</text>
<text x="91.25" y="254" font-size="5.4" text-anchor="middle" fill="#4a5479" class="s" stroke="#4a5479">364</text>
<text x="102.5" y="254" font-size="5.4" text-anchor="middle" fill="#4a5479" class="s" stroke="#4a5479">335</text>
<text x="113.75" y="254" font-size="5.4" text-anchor="middle" fill="#4a5479" class="s" stroke="#4a5479">307</text>
<text x="125" y="254" font-size="5.4" text-anchor="middle" fill="#4a5479" class="s" stroke="#4a5479">275</text>
<text x="136.25" y="254" font-size="5.4" text-anchor="middle" fill="#4a5479" class="s" stroke="#4a5479">255</text>
<text x="147.5" y="254" font-size="5.4" text-anchor="middle" fill="#4a5479" class="s" stroke="#4a5479">221</text>
<text x="158.75" y="254" font-size="5.4" text-anchor="middle" fill="#4a5479" class="s" stroke="#4a5479">192</text>
<text x="170" y="254" font-size="5.4" text-anchor="middle" fill="#4a5479" class="s" stroke="#4a5479">172</text>
<text x="181.25" y="254" font-size="5.4" text-anchor="middle" fill="#4a5479" class="s" stroke="#4a5479">148</text>
<text x="192.5" y="254" font-size="5.4" text-anchor="middle" fill="#4a5479" class="s" stroke="#4a5479">113</text>
<text x="203.75" y="254" font-size="5.4" text-anchor="middle" fill="#4a5479" class="s" stroke="#4a5479">59</text>
<text x="215" y="254" font-size="5.4" text-anchor="middle" fill="#4a5479" class="s" stroke="#4a5479">26</text>
<text x="226.25" y="254" font-size="5.4" text-anchor="middle" fill="#4a5479" class="s" stroke="#4a5479">8</text>
<text x="237.5" y="254" font-size="5.4" text-anchor="middle" fill="#4a5479" class="s" stroke="#4a5479">1</text>
<text x="248.75" y="254" font-size="5.4" text-anchor="middle" fill="#4a5479" class="s" stroke="#4a5479">0</text>
</g>
<g transform="translate(0 266)">
<text transform="translate(32.3 14.6) scale(0.92 1)" x="0" y="0" font-size="12.8" font-weight="bold" fill="#000" style="stroke-width:0" class="s" stroke="#000">C</text>
<line x1="72.5" y1="58.6" x2="199.3" y2="58.6" stroke="#626262" stroke-width="1" stroke-dasharray="1.9 1.5"/>
<line x1="72.5" y1="105.5" x2="199.3" y2="105.5" stroke="#626262" stroke-width="1" stroke-dasharray="1.9 1.5"/>
<line x1="72.5" y1="161.8" x2="199.3" y2="161.8" stroke="#626262" stroke-width="1" stroke-dasharray="1.9 1.5"/>
<line x1="72.5" y1="171" x2="199.3" y2="171" stroke="#626262" stroke-width="1" stroke-dasharray="1.9 1.5"/>
<line x1="199.3" y1="58.6" x2="199.3" y2="187" stroke="#626262" stroke-width="1" stroke-dasharray="1.9 1.5"/>
<path d="M78.4 177.9H85H86.73V177.82H88.45V177.75H90.18V177.67H91.91V177.59H93.64V177.51H95.36V177.44H97.09V177.36H98.82V177.28H100.55V177.2H102.27V177.13H104V177.05H105.73V176.97H107.45V176.9H109.18V176.82H110.91V176.74H112.64V176.66H114.36V176.59H116.09V176.51H117.82V176.43H119.55V176.35H121.27V176.28H123V176.2H124.79V176.06H126.57V175.91H128.36V175.77H130.14V175.63H131.93V175.49H133.71V175.34H135.5V175.2H171V170.8H243.1" fill="none" stroke="#961a3a" stroke-width="1.6"/>
<path d="M78.4 177.9H85H86.7V177.71H88.39V177.51H90.09V177.32H91.79V177.13H93.48V176.94H95.18V176.74H96.88V176.55H98.57V176.36H100.27V176.16H101.96V175.97H103.66V175.78H105.36V175.59H107.05V175.39H108.75V175.2H110.45V175.01H112.14V174.81H113.84V174.62H115.54V174.43H117.23V174.24H118.93V174.04H120.62V173.85H122.32V173.66H124.02V173.46H125.71V173.27H127.41V173.08H129.11V172.89H130.8V172.69H132.5V172.5H134V171.75H135.5V171H169V169.7H181.7V164.5H192.7V161.5H246.6" fill="none" stroke="#2c3b5e" stroke-width="1.6"/>
<path d="M78.4 177.9H80.1V177.77H81.8V177.63H83.5V177.5H84.5V175.8H85.8V173.7H87.1V171.6H88.4V171H89.7V170.4H92.2V168.3H94.2V165.75H96.2V163.2H97.85V162.15H99.5V161.1H101.8V159.6H103.25V158.9H104.7V158.2H105.2V156.5H107.5V155.6H109.4V155.45H111.3V155.3H111.6V150.4H113.3V150.25H115V150.1H116.45V149.8H117.9V149.5H119.1V147.2H120.55V146.35H122V145.5H124.3V142.6H126V140.3H127.8V139.15H129.6V138H131.5V136H132.95V134.85H134.4V133.7H136V132.73H137.6V131.77H139.2V130.8H140.9V130.3H142.6V129.8H144.3V129.3H146V128.8H147.4V127.4H148.8V126H150.43V124.7H152.07V123.4H153.7V122.1H155.3V121.8H156.9V121.5H158.5V121.2H160.1V120.87H161.7V120.53H163.3V120.2H164.98V119.6H166.65V119H168.32V118.4H170V117.8H171.55V116.8H173.1V115.8H174.82V115.05H176.55V114.3H178.28V113.55H180V112.8H181.53V111.67H183.07V110.53H184.6V109.4H186.32V108.82H188.05V108.25H189.78V107.68H191.5V107.1H193.04V106.72H194.58V106.34H196.12V105.96H197.66V105.58H199.2V105.2H200.87V104.3H202.53V103.4H204.2V102.5H205.4V100.5H227.3V92.3H251.5" fill="none" stroke="#2c3b5e" stroke-width="1.8" stroke-dasharray="2 1.3"/>
<path d="M78.4 177.9H80.1V177.65H81.8V177.4H83.85V174.95H85.9V172.5H87.7V171.15H89.5V169.8H91.5V167.75H93.5V165.7H94.9V164.3H96.3V162.9H98.2V160.5H99.2V155.3H99.6V152.4H101.3V151.45H103V150.5H104.4V148.6H105.8V146.7H107.2V145.55H108.6V144.4H110.05V141.8H111.5V139.2H113.07V137.6H114.63V136H116.2V134.4H118.1V128.7H120V126.85H121.9V125H123.85V121.7H125.8V118.4H127.3V117.13H128.8V115.87H130.3V114.6H131.83V113.28H133.35V111.95H134.88V110.63H136.4V109.3H137.9V107.8H139.4V106.3H140.9V104.8H142.43V103.03H143.97V101.27H145.5V99.5H147.35V96.45H149.2V93.4H151.1V92.65H153V91.9H154.95V90.25H156.9V88.6H158.43V87.07H159.97V85.53H161.5V84H163.25V82.55H165V81.1H166.75V79.65H168.5V78.2H170.34V77.52H172.18V76.84H174.02V76.16H175.86V75.48H177.7V74.8H180V70.2H182.3V67.4H184.03V66.65H185.75V65.9H187.47V65.15H189.2V64.4H190.73V63.23H192.27V62.07H193.8V60.9H195.6V60.13H197.4V59.37H199.2V58.6H240" fill="none" stroke="#961a3a" stroke-width="1.8" stroke-dasharray="2 1.3"/>
<path d="M72 22V187.7H264.6" fill="none" stroke="#111" stroke-width="1.5"/>
<line x1="68.8" y1="163.55" x2="72" y2="163.55" stroke="#111" stroke-width="1.2"/>
<text transform="translate(65.7 165.85) scale(0.91 1)" x="0" y="0" font-size="6.6" text-anchor="end" fill="#2a2a2a" style="stroke-width:0.14" class="s" stroke="#2a2a2a">0.1</text>
<line x1="68.8" y1="148.1" x2="72" y2="148.1" stroke="#111" stroke-width="1.2"/>
<text transform="translate(65.7 150.4) scale(0.91 1)" x="0" y="0" font-size="6.6" text-anchor="end" fill="#2a2a2a" style="stroke-width:0.14" class="s" stroke="#2a2a2a">0.2</text>
<line x1="68.8" y1="132.65" x2="72" y2="132.65" stroke="#111" stroke-width="1.2"/>
<text transform="translate(65.7 134.95) scale(0.91 1)" x="0" y="0" font-size="6.6" text-anchor="end" fill="#2a2a2a" style="stroke-width:0.14" class="s" stroke="#2a2a2a">0.3</text>
<line x1="68.8" y1="117.2" x2="72" y2="117.2" stroke="#111" stroke-width="1.2"/>
<text transform="translate(65.7 119.5) scale(0.91 1)" x="0" y="0" font-size="6.6" text-anchor="end" fill="#2a2a2a" style="stroke-width:0.14" class="s" stroke="#2a2a2a">0.4</text>
<line x1="68.8" y1="101.75" x2="72" y2="101.75" stroke="#111" stroke-width="1.2"/>
<text transform="translate(65.7 104.05) scale(0.91 1)" x="0" y="0" font-size="6.6" text-anchor="end" fill="#2a2a2a" style="stroke-width:0.14" class="s" stroke="#2a2a2a">0.5</text>
<line x1="68.8" y1="86.3" x2="72" y2="86.3" stroke="#111" stroke-width="1.2"/>
<text transform="translate(65.7 88.6) scale(0.91 1)" x="0" y="0" font-size="6.6" text-anchor="end" fill="#2a2a2a" style="stroke-width:0.14" class="s" stroke="#2a2a2a">0.6</text>
<line x1="68.8" y1="70.85" x2="72" y2="70.85" stroke="#111" stroke-width="1.2"/>
<text transform="translate(65.7 73.15) scale(0.91 1)" x="0" y="0" font-size="6.6" text-anchor="end" fill="#2a2a2a" style="stroke-width:0.14" class="s" stroke="#2a2a2a">0.7</text>
<line x1="68.8" y1="55.4" x2="72" y2="55.4" stroke="#111" stroke-width="1.2"/>
<text transform="translate(65.7 57.7) scale(0.91 1)" x="0" y="0" font-size="6.6" text-anchor="end" fill="#2a2a2a" style="stroke-width:0.14" class="s" stroke="#2a2a2a">0.8</text>
<line x1="68.8" y1="39.95" x2="72" y2="39.95" stroke="#111" stroke-width="1.2"/>
<text transform="translate(65.7 42.25) scale(0.91 1)" x="0" y="0" font-size="6.6" text-anchor="end" fill="#2a2a2a" style="stroke-width:0.14" class="s" stroke="#2a2a2a">0.9</text>
<line x1="68.8" y1="24.5" x2="72" y2="24.5" stroke="#111" stroke-width="1.2"/>
<text transform="translate(65.7 26.8) scale(0.91 1)" x="0" y="0" font-size="6.6" text-anchor="end" fill="#2a2a2a" style="stroke-width:0.14" class="s" stroke="#2a2a2a">1.0</text>
<line x1="80" y1="187.7" x2="80" y2="191" stroke="#111" stroke-width="1.2"/>
<text transform="translate(80 199.6) scale(0.9 1)" x="0" y="0" font-size="6.5" text-anchor="middle" fill="#2a2a2a" style="stroke-width:0.14" class="s" stroke="#2a2a2a">0</text>
<line x1="100" y1="187.7" x2="100" y2="191" stroke="#111" stroke-width="1.2"/>
<text transform="translate(100 199.6) scale(0.9 1)" x="0" y="0" font-size="6.5" text-anchor="middle" fill="#2a2a2a" style="stroke-width:0.14" class="s" stroke="#2a2a2a">3</text>
<line x1="120" y1="187.7" x2="120" y2="191" stroke="#111" stroke-width="1.2"/>
<text transform="translate(120 199.6) scale(0.9 1)" x="0" y="0" font-size="6.5" text-anchor="middle" fill="#2a2a2a" style="stroke-width:0.14" class="s" stroke="#2a2a2a">6</text>
<line x1="140" y1="187.7" x2="140" y2="191" stroke="#111" stroke-width="1.2"/>
<text transform="translate(140 199.6) scale(0.9 1)" x="0" y="0" font-size="6.5" text-anchor="middle" fill="#2a2a2a" style="stroke-width:0.14" class="s" stroke="#2a2a2a">9</text>
<line x1="160" y1="187.7" x2="160" y2="191" stroke="#111" stroke-width="1.2"/>
<text transform="translate(160 199.6) scale(0.9 1)" x="0" y="0" font-size="6.5" text-anchor="middle" fill="#2a2a2a" style="stroke-width:0.14" class="s" stroke="#2a2a2a">12</text>
<line x1="180" y1="187.7" x2="180" y2="191" stroke="#111" stroke-width="1.2"/>
<text transform="translate(180 199.6) scale(0.9 1)" x="0" y="0" font-size="6.5" text-anchor="middle" fill="#2a2a2a" style="stroke-width:0.14" class="s" stroke="#2a2a2a">15</text>
<line x1="200" y1="187.7" x2="200" y2="191" stroke="#111" stroke-width="1.2"/>
<text transform="translate(200 199.6) scale(0.9 1)" x="0" y="0" font-size="6.5" text-anchor="middle" fill="#2a2a2a" style="stroke-width:0.14" class="s" stroke="#2a2a2a">18</text>
<line x1="220" y1="187.7" x2="220" y2="191" stroke="#111" stroke-width="1.2"/>
<text transform="translate(220 199.6) scale(0.9 1)" x="0" y="0" font-size="6.5" text-anchor="middle" fill="#2a2a2a" style="stroke-width:0.14" class="s" stroke="#2a2a2a">21</text>
<line x1="240" y1="187.7" x2="240" y2="191" stroke="#111" stroke-width="1.2"/>
<text transform="translate(240 199.6) scale(0.9 1)" x="0" y="0" font-size="6.5" text-anchor="middle" fill="#2a2a2a" style="stroke-width:0.14" class="s" stroke="#2a2a2a">24</text>
<line x1="260" y1="187.7" x2="260" y2="191" stroke="#111" stroke-width="1.2"/>
<text transform="translate(260 199.6) scale(0.9 1)" x="0" y="0" font-size="6.5" text-anchor="middle" fill="#2a2a2a" style="stroke-width:0.14" class="s" stroke="#2a2a2a">27</text>
<text x="116.4" y="211" font-size="8.8" font-weight="bold" fill="#222" style="stroke-width:0.3" textLength="103.8" lengthAdjust="spacingAndGlyphs" class="s" stroke="#222">Month since first dose or randomization</text>
<text transform="translate(50.5 144.1) rotate(-90)" x="0" y="0" font-size="7.9" fill="#222" style="stroke-width:0.4" textLength="79.2" lengthAdjust="spacingAndGlyphs" class="s" stroke="#222">Cumulative incidence (1&#8722;KM)</text>
<line x1="78" y1="26.3" x2="97" y2="26.3" stroke="#961a3a" stroke-width="1.7" stroke-dasharray="2.0 1.35"/>
<text x="99.7" y="28.15" font-size="5.2" fill="#262626" class="s" stroke="#262626">Vd: Progression or death</text>
<line x1="78" y1="35.3" x2="97" y2="35.3" stroke="#2c3b5e" stroke-width="1.7" stroke-dasharray="2.0 1.35"/>
<text x="99.7" y="37.15" font-size="5.2" fill="#262626" class="s" stroke="#262626">Kd: Progression or death</text>
<line x1="78" y1="44.3" x2="97" y2="44.3" stroke="#961a3a" stroke-width="1.6"/>
<text x="99.7" y="46.15" font-size="5.2" fill="#262626" class="s" stroke="#262626">Vd: CF</text>
<line x1="78" y1="53.3" x2="97" y2="53.3" stroke="#2c3b5e" stroke-width="1.6"/>
<text x="99.7" y="55.15" font-size="5.2" fill="#262626" class="s" stroke="#262626">Kd: CF</text>
<text x="201.8" y="55.8" font-size="5.6" fill="#a8445a" style="stroke-width:0.1" class="s" stroke="#a8445a">0.78</text>
<text x="201.8" y="112.5" font-size="5.6" fill="#4a5479" style="stroke-width:0.1" class="s" stroke="#4a5479">0.48</text>
<text x="201.3" y="159" font-size="5.6" fill="#4a5479" style="stroke-width:0.1" class="s" stroke="#4a5479">0.11</text>
<text x="201.3" y="179" font-size="5.6" fill="#a8445a" style="stroke-width:0.1" class="s" stroke="#a8445a">0.05</text>
<text x="41.4" y="221.6" font-size="5.2" fill="#262626" class="s" stroke="#262626">Number of Subjects at Risk</text>
<text x="68.8" y="230.8" font-size="5.2" text-anchor="end" fill="#262626" class="s" stroke="#262626">Vd: Progression or death</text>
<text x="80" y="230.8" font-size="5.4" text-anchor="middle" fill="#a8445a" class="s" stroke="#a8445a">456</text>
<text x="100" y="230.8" font-size="5.4" text-anchor="middle" fill="#a8445a" class="s" stroke="#a8445a">354</text>
<text x="120" y="230.8" font-size="5.4" text-anchor="middle" fill="#a8445a" class="s" stroke="#a8445a">252</text>
<text x="140" y="230.8" font-size="5.4" text-anchor="middle" fill="#a8445a" class="s" stroke="#a8445a">181</text>
<text x="160" y="230.8" font-size="5.4" text-anchor="middle" fill="#a8445a" class="s" stroke="#a8445a">81</text>
<text x="180" y="230.8" font-size="5.4" text-anchor="middle" fill="#a8445a" class="s" stroke="#a8445a">30</text>
<text x="200" y="230.8" font-size="5.4" text-anchor="middle" fill="#a8445a" class="s" stroke="#a8445a">12</text>
<text x="220" y="230.8" font-size="5.4" text-anchor="middle" fill="#a8445a" class="s" stroke="#a8445a">2</text>
<text x="240" y="230.8" font-size="5.4" text-anchor="middle" fill="#a8445a" class="s" stroke="#a8445a">1</text>
<text x="260" y="230.8" font-size="5.4" text-anchor="middle" fill="#a8445a" class="s" stroke="#a8445a">0</text>
<text x="68.8" y="238.1" font-size="5.2" text-anchor="end" fill="#262626" class="s" stroke="#262626">Kd: Progression or death</text>
<text x="80" y="238.1" font-size="5.4" text-anchor="middle" fill="#4a5479" class="s" stroke="#4a5479">463</text>
<text x="100" y="238.1" font-size="5.4" text-anchor="middle" fill="#4a5479" class="s" stroke="#4a5479">398</text>
<text x="120" y="238.1" font-size="5.4" text-anchor="middle" fill="#4a5479" class="s" stroke="#4a5479">331</text>
<text x="140" y="238.1" font-size="5.4" text-anchor="middle" fill="#4a5479" class="s" stroke="#4a5479">248</text>
<text x="160" y="238.1" font-size="5.4" text-anchor="middle" fill="#4a5479" class="s" stroke="#4a5479">144</text>
<text x="180" y="238.1" font-size="5.4" text-anchor="middle" fill="#4a5479" class="s" stroke="#4a5479">77</text>
<text x="200" y="238.1" font-size="5.4" text-anchor="middle" fill="#4a5479" class="s" stroke="#4a5479">41</text>
<text x="220" y="238.1" font-size="5.4" text-anchor="middle" fill="#4a5479" class="s" stroke="#4a5479">14</text>
<text x="240" y="238.1" font-size="5.4" text-anchor="middle" fill="#4a5479" class="s" stroke="#4a5479">4</text>
<text x="260" y="238.1" font-size="5.4" text-anchor="middle" fill="#4a5479" class="s" stroke="#4a5479">0</text>
<text x="68.8" y="245.8" font-size="5.2" text-anchor="end" fill="#262626" class="s" stroke="#262626">Vd: CF</text>
<text x="80" y="245.8" font-size="5.4" text-anchor="middle" fill="#a8445a" class="s" stroke="#a8445a">456</text>
<text x="100" y="245.8" font-size="5.4" text-anchor="middle" fill="#a8445a" class="s" stroke="#a8445a">389</text>
<text x="120" y="245.8" font-size="5.4" text-anchor="middle" fill="#a8445a" class="s" stroke="#a8445a">249</text>
<text x="140" y="245.8" font-size="5.4" text-anchor="middle" fill="#a8445a" class="s" stroke="#a8445a">146</text>
<text x="160" y="245.8" font-size="5.4" text-anchor="middle" fill="#a8445a" class="s" stroke="#a8445a">64</text>
<text x="180" y="245.8" font-size="5.4" text-anchor="middle" fill="#a8445a" class="s" stroke="#a8445a">23</text>
<text x="200" y="245.8" font-size="5.4" text-anchor="middle" fill="#a8445a" class="s" stroke="#a8445a">9</text>
<text x="220" y="245.8" font-size="5.4" text-anchor="middle" fill="#a8445a" class="s" stroke="#a8445a">2</text>
<text x="240" y="245.8" font-size="5.4" text-anchor="middle" fill="#a8445a" class="s" stroke="#a8445a">1</text>
<text x="260" y="245.8" font-size="5.4" text-anchor="middle" fill="#a8445a" class="s" stroke="#a8445a">0</text>
<text x="68.8" y="253.3" font-size="5.2" text-anchor="end" fill="#262626" class="s" stroke="#262626">Kd: CF</text>
<text x="80" y="253.3" font-size="5.4" text-anchor="middle" fill="#4a5479" class="s" stroke="#4a5479">463</text>
<text x="100" y="253.3" font-size="5.4" text-anchor="middle" fill="#4a5479" class="s" stroke="#4a5479">412</text>
<text x="120" y="253.3" font-size="5.4" text-anchor="middle" fill="#4a5479" class="s" stroke="#4a5479">341</text>
<text x="140" y="253.3" font-size="5.4" text-anchor="middle" fill="#4a5479" class="s" stroke="#4a5479">242</text>
<text x="160" y="253.3" font-size="5.4" text-anchor="middle" fill="#4a5479" class="s" stroke="#4a5479">126</text>
<text x="180" y="253.3" font-size="5.4" text-anchor="middle" fill="#4a5479" class="s" stroke="#4a5479">64</text>
<text x="200" y="253.3" font-size="5.4" text-anchor="middle" fill="#4a5479" class="s" stroke="#4a5479">32</text>
<text x="220" y="253.3" font-size="5.4" text-anchor="middle" fill="#4a5479" class="s" stroke="#4a5479">8</text>
<text x="240" y="253.3" font-size="5.4" text-anchor="middle" fill="#4a5479" class="s" stroke="#4a5479">1</text>
<text x="260" y="253.3" font-size="5.4" text-anchor="middle" fill="#4a5479" class="s" stroke="#4a5479">0</text>
</g>
<g transform="translate(248 266)">
<text transform="translate(32.3 14.6) scale(0.92 1)" x="0" y="0" font-size="12.8" font-weight="bold" fill="#000" style="stroke-width:0" class="s" stroke="#000">D</text>
<line x1="72.5" y1="134.2" x2="187.6" y2="134.2" stroke="#626262" stroke-width="1" stroke-dasharray="1.9 1.5"/>
<line x1="72.5" y1="147.8" x2="187.6" y2="147.8" stroke="#626262" stroke-width="1" stroke-dasharray="1.9 1.5"/>
<line x1="72.5" y1="161.8" x2="187.6" y2="161.8" stroke="#626262" stroke-width="1" stroke-dasharray="1.9 1.5"/>
<line x1="72.5" y1="171.4" x2="187.6" y2="171.4" stroke="#626262" stroke-width="1" stroke-dasharray="1.9 1.5"/>
<line x1="187.6" y1="134.2" x2="187.6" y2="187" stroke="#626262" stroke-width="1" stroke-dasharray="1.9 1.5"/>
<path d="M79.3 178.3H81.11V178.26H82.93V178.21H84.74V178.17H86.56V178.13H88.37V178.09H90.19V178.04H92V178H93.67V177.73H95.33V177.47H97V177.2H98.67V176.93H100.33V176.67H102V176.4H103.72V176.39H105.44V176.39H107.15V176.38H108.87V176.38H110.59V176.37H112.31V176.36H114.02V176.36H115.74V176.35H117.46V176.35H119.18V176.34H120.89V176.34H122.61V176.33H124.33V176.32H126.05V176.32H127.76V176.31H129.48V176.31H131.2V176.3V175.2H163V171.6H227" fill="none" stroke="#961a3a" stroke-width="1.6"/>
<path d="M79.3 178.3H81.05V177.93H82.8V177.56H84.55V177.19H86.3V176.82H88.05V176.45H89.8V176.08H91.55V175.71H93.3V175.34H95.05V174.97H96.8V174.6H99V174H100.74V173.96H102.47V173.93H104.21V173.89H105.95V173.85H107.69V173.81H109.43V173.77H111.16V173.74H112.9V173.7H114.64V173.66H116.38V173.62H118.11V173.59H119.85V173.55H121.59V173.51H123.33V173.47H125.06V173.44H126.8V173.4H128.5V171H160V169.7H171.4V165H181.7V162.1H229" fill="none" stroke="#2c3b5e" stroke-width="1.6"/>
<path d="M79.3 178.3H81.11V177.91H82.93V177.53H84.74V177.14H86.56V176.76H88.37V176.37H90.19V175.99H92V175.6H93.54V174.92H95.08V174.24H96.62V173.56H98.16V172.88H99.7V172.2H101.24V171.66H102.78V171.12H104.32V170.58H105.86V170.04H107.4V169.5H109.2V168.87H111V168.23H112.8V167.6H114.33V167.1H115.85V166.6H117.37V166.1H118.9V165.6H120.7V164.83H122.5V164.07H124.3V163.3H125.85V162.7H127.4V162.1H128.95V161.5H130.5V160.9H132.12V160.5H133.75V160.1H135.38V159.7H137V159.3H138.54V158.7H140.08V158.1H141.62V157.5H143.16V156.9H144.7V156.3H146.24V155.68H147.78V155.06H149.32V154.44H150.86V153.82H152.4V153.2H154.3V152.7H156.2V152.2H157.86V152.17H159.51V152.14H161.17V152.11H162.83V152.09H164.49V152.06H166.14V152.03H167.8V152H169.6V151.6H171.4V151.2H173.2V150.8H175.5V149.4H177H178.93V148.93H180.87V148.47H182.8V148H184.4V147.83H186V147.67H187.6V147.5H189.14V147.42H190.68V147.34H192.22V147.26H193.76V147.18H195.3V147.1H196.2V144.8H216.4V135.5H250" fill="none" stroke="#2c3b5e" stroke-width="1.8" stroke-dasharray="2 1.3"/>
<path d="M79.3 178.3H81.11V177.9H82.93V177.5H84.74V177.1H86.56V176.7H88.37V176.3H90.19V175.9H92V175.5H93.54V174.82H95.08V174.14H96.62V173.46H98.16V172.78H99.7V172.1H101.24V171.56H102.78V171.02H104.32V170.48H105.86V169.94H107.4V169.4H109.2V168.77H111V168.13H112.8V167.5H114.33V167H115.85V166.5H117.37V166H118.9V165.5H120.7V164.73H122.5V163.97H124.3V163.2H125.85V162.6H127.4V162H128.95V161.4H130.5V160.8H132.12V160.4H133.75V160H135.38V159.6H137V159.2H138.54V158.6H140.08V158H141.62V157.4H143.16V156.8H144.7V156.2H146.24V155.58H147.78V154.96H149.32V154.34H150.86V153.72H152.4V153.1H154.3V152.3H156.2V151.5H158.15V150.35H160.1V149.2H161.64V148.6H163.18V148H164.72V147.4H166.26V146.8H167.8V146.2H169.7V145.4H171.6V144.6H173.9V143.1H175.5V140H177.27V139.17H179.03V138.33H180.8V137.5H182.43V136.83H184.07V136.17H185.7V135.5H187.6V133.6H189.5V130.7H191.4V127.8H193V127.17H194.6V126.53H196.2V125.9H197.65V124.75H199.1V123.6H226V90.9H229.9" fill="none" stroke="#961a3a" stroke-width="1.8" stroke-dasharray="2 1.3"/>
<path d="M72 22V187.7H264.6" fill="none" stroke="#111" stroke-width="1.5"/>
<line x1="68.8" y1="163.55" x2="72" y2="163.55" stroke="#111" stroke-width="1.2"/>
<text transform="translate(65.7 165.85) scale(0.91 1)" x="0" y="0" font-size="6.6" text-anchor="end" fill="#2a2a2a" style="stroke-width:0.14" class="s" stroke="#2a2a2a">0.1</text>
<line x1="68.8" y1="148.1" x2="72" y2="148.1" stroke="#111" stroke-width="1.2"/>
<text transform="translate(65.7 150.4) scale(0.91 1)" x="0" y="0" font-size="6.6" text-anchor="end" fill="#2a2a2a" style="stroke-width:0.14" class="s" stroke="#2a2a2a">0.2</text>
<line x1="68.8" y1="132.65" x2="72" y2="132.65" stroke="#111" stroke-width="1.2"/>
<text transform="translate(65.7 134.95) scale(0.91 1)" x="0" y="0" font-size="6.6" text-anchor="end" fill="#2a2a2a" style="stroke-width:0.14" class="s" stroke="#2a2a2a">0.3</text>
<line x1="68.8" y1="117.2" x2="72" y2="117.2" stroke="#111" stroke-width="1.2"/>
<text transform="translate(65.7 119.5) scale(0.91 1)" x="0" y="0" font-size="6.6" text-anchor="end" fill="#2a2a2a" style="stroke-width:0.14" class="s" stroke="#2a2a2a">0.4</text>
<line x1="68.8" y1="101.75" x2="72" y2="101.75" stroke="#111" stroke-width="1.2"/>
<text transform="translate(65.7 104.05) scale(0.91 1)" x="0" y="0" font-size="6.6" text-anchor="end" fill="#2a2a2a" style="stroke-width:0.14" class="s" stroke="#2a2a2a">0.5</text>
<line x1="68.8" y1="86.3" x2="72" y2="86.3" stroke="#111" stroke-width="1.2"/>
<text transform="translate(65.7 88.6) scale(0.91 1)" x="0" y="0" font-size="6.6" text-anchor="end" fill="#2a2a2a" style="stroke-width:0.14" class="s" stroke="#2a2a2a">0.6</text>
<line x1="68.8" y1="70.85" x2="72" y2="70.85" stroke="#111" stroke-width="1.2"/>
<text transform="translate(65.7 73.15) scale(0.91 1)" x="0" y="0" font-size="6.6" text-anchor="end" fill="#2a2a2a" style="stroke-width:0.14" class="s" stroke="#2a2a2a">0.7</text>
<line x1="68.8" y1="55.4" x2="72" y2="55.4" stroke="#111" stroke-width="1.2"/>
<text transform="translate(65.7 57.7) scale(0.91 1)" x="0" y="0" font-size="6.6" text-anchor="end" fill="#2a2a2a" style="stroke-width:0.14" class="s" stroke="#2a2a2a">0.8</text>
<line x1="68.8" y1="39.95" x2="72" y2="39.95" stroke="#111" stroke-width="1.2"/>
<text transform="translate(65.7 42.25) scale(0.91 1)" x="0" y="0" font-size="6.6" text-anchor="end" fill="#2a2a2a" style="stroke-width:0.14" class="s" stroke="#2a2a2a">0.9</text>
<line x1="68.8" y1="24.5" x2="72" y2="24.5" stroke="#111" stroke-width="1.2"/>
<text transform="translate(65.7 26.8) scale(0.91 1)" x="0" y="0" font-size="6.6" text-anchor="end" fill="#2a2a2a" style="stroke-width:0.14" class="s" stroke="#2a2a2a">1.0</text>
<line x1="80" y1="187.7" x2="80" y2="191" stroke="#111" stroke-width="1.2"/>
<text transform="translate(80 199.6) scale(0.9 1)" x="0" y="0" font-size="6.5" text-anchor="middle" fill="#2a2a2a" style="stroke-width:0.14" class="s" stroke="#2a2a2a">0</text>
<line x1="98" y1="187.7" x2="98" y2="191" stroke="#111" stroke-width="1.2"/>
<text transform="translate(98 199.6) scale(0.9 1)" x="0" y="0" font-size="6.5" text-anchor="middle" fill="#2a2a2a" style="stroke-width:0.14" class="s" stroke="#2a2a2a">3</text>
<line x1="116" y1="187.7" x2="116" y2="191" stroke="#111" stroke-width="1.2"/>
<text transform="translate(116 199.6) scale(0.9 1)" x="0" y="0" font-size="6.5" text-anchor="middle" fill="#2a2a2a" style="stroke-width:0.14" class="s" stroke="#2a2a2a">6</text>
<line x1="134" y1="187.7" x2="134" y2="191" stroke="#111" stroke-width="1.2"/>
<text transform="translate(134 199.6) scale(0.9 1)" x="0" y="0" font-size="6.5" text-anchor="middle" fill="#2a2a2a" style="stroke-width:0.14" class="s" stroke="#2a2a2a">9</text>
<line x1="152" y1="187.7" x2="152" y2="191" stroke="#111" stroke-width="1.2"/>
<text transform="translate(152 199.6) scale(0.9 1)" x="0" y="0" font-size="6.5" text-anchor="middle" fill="#2a2a2a" style="stroke-width:0.14" class="s" stroke="#2a2a2a">12</text>
<line x1="170" y1="187.7" x2="170" y2="191" stroke="#111" stroke-width="1.2"/>
<text transform="translate(170 199.6) scale(0.9 1)" x="0" y="0" font-size="6.5" text-anchor="middle" fill="#2a2a2a" style="stroke-width:0.14" class="s" stroke="#2a2a2a">15</text>
<line x1="188" y1="187.7" x2="188" y2="191" stroke="#111" stroke-width="1.2"/>
<text transform="translate(188 199.6) scale(0.9 1)" x="0" y="0" font-size="6.5" text-anchor="middle" fill="#2a2a2a" style="stroke-width:0.14" class="s" stroke="#2a2a2a">18</text>
<line x1="206" y1="187.7" x2="206" y2="191" stroke="#111" stroke-width="1.2"/>
<text transform="translate(206 199.6) scale(0.9 1)" x="0" y="0" font-size="6.5" text-anchor="middle" fill="#2a2a2a" style="stroke-width:0.14" class="s" stroke="#2a2a2a">21</text>
<line x1="224" y1="187.7" x2="224" y2="191" stroke="#111" stroke-width="1.2"/>
<text transform="translate(224 199.6) scale(0.9 1)" x="0" y="0" font-size="6.5" text-anchor="middle" fill="#2a2a2a" style="stroke-width:0.14" class="s" stroke="#2a2a2a">24</text>
<line x1="242" y1="187.7" x2="242" y2="191" stroke="#111" stroke-width="1.2"/>
<text transform="translate(242 199.6) scale(0.9 1)" x="0" y="0" font-size="6.5" text-anchor="middle" fill="#2a2a2a" style="stroke-width:0.14" class="s" stroke="#2a2a2a">27</text>
<line x1="260" y1="187.7" x2="260" y2="191" stroke="#111" stroke-width="1.2"/>
<text transform="translate(260 199.6) scale(0.9 1)" x="0" y="0" font-size="6.5" text-anchor="middle" fill="#2a2a2a" style="stroke-width:0.14" class="s" stroke="#2a2a2a">30</text>
<text x="116.4" y="211" font-size="8.8" font-weight="bold" fill="#222" style="stroke-width:0.3" textLength="103.8" lengthAdjust="spacingAndGlyphs" class="s" stroke="#222">Month since first dose or randomization</text>
<text transform="translate(50.5 144.1) rotate(-90)" x="0" y="0" font-size="7.9" fill="#222" style="stroke-width:0.4" textLength="79.2" lengthAdjust="spacingAndGlyphs" class="s" stroke="#222">Cumulative incidence (1&#8722;KM)</text>
<line x1="78" y1="26.3" x2="97" y2="26.3" stroke="#961a3a" stroke-width="1.7" stroke-dasharray="2.0 1.35"/>
<text x="99.7" y="28.15" font-size="5.2" fill="#262626" class="s" stroke="#262626">Vd: Mortality</text>
<line x1="78" y1="35.3" x2="97" y2="35.3" stroke="#2c3b5e" stroke-width="1.7" stroke-dasharray="2.0 1.35"/>
<text x="99.7" y="37.15" font-size="5.2" fill="#262626" class="s" stroke="#262626">Kd: Mortality</text>
<line x1="78" y1="44.3" x2="97" y2="44.3" stroke="#961a3a" stroke-width="1.6"/>
<text x="99.7" y="46.15" font-size="5.2" fill="#262626" class="s" stroke="#262626">Vd: CF</text>
<line x1="78" y1="53.3" x2="97" y2="53.3" stroke="#2c3b5e" stroke-width="1.6"/>
<text x="99.7" y="55.15" font-size="5.2" fill="#262626" class="s" stroke="#262626">Kd: CF</text>
<text x="190.1" y="138.9" font-size="5.6" fill="#a8445a" style="stroke-width:0.1" class="s" stroke="#a8445a">0.29</text>
<text x="190.1" y="154.8" font-size="5.6" fill="#4a5479" style="stroke-width:0.1" class="s" stroke="#4a5479">0.20</text>
<text x="189.9" y="168.6" font-size="5.6" fill="#4a5479" style="stroke-width:0.1" class="s" stroke="#4a5479">0.11</text>
<text x="189.9" y="179.3" font-size="5.6" fill="#a8445a" style="stroke-width:0.1" class="s" stroke="#a8445a">0.05</text>
<text x="41.4" y="221.6" font-size="5.2" fill="#262626" class="s" stroke="#262626">Number of Subjects at Risk</text>
<text x="68.8" y="230.8" font-size="5.2" text-anchor="end" fill="#262626" class="s" stroke="#262626">Vd: Mortality</text>
<text x="80" y="230.8" font-size="5.4" text-anchor="middle" fill="#a8445a" class="s" stroke="#a8445a">456</text>
<text x="98" y="230.8" font-size="5.4" text-anchor="middle" fill="#a8445a" class="s" stroke="#a8445a">431</text>
<text x="116" y="230.8" font-size="5.4" text-anchor="middle" fill="#a8445a" class="s" stroke="#a8445a">390</text>
<text x="134" y="230.8" font-size="5.4" text-anchor="middle" fill="#a8445a" class="s" stroke="#a8445a">317</text>
<text x="152" y="230.8" font-size="5.4" text-anchor="middle" fill="#a8445a" class="s" stroke="#a8445a">191</text>
<text x="170" y="230.8" font-size="5.4" text-anchor="middle" fill="#a8445a" class="s" stroke="#a8445a">110</text>
<text x="188" y="230.8" font-size="5.4" text-anchor="middle" fill="#a8445a" class="s" stroke="#a8445a">53</text>
<text x="206" y="230.8" font-size="5.4" text-anchor="middle" fill="#a8445a" class="s" stroke="#a8445a">15</text>
<text x="224" y="230.8" font-size="5.4" text-anchor="middle" fill="#a8445a" class="s" stroke="#a8445a">3</text>
<text x="242" y="230.8" font-size="5.4" text-anchor="middle" fill="#a8445a" class="s" stroke="#a8445a">0</text>
<text x="68.8" y="238.1" font-size="5.2" text-anchor="end" fill="#262626" class="s" stroke="#262626">Kd: Mortality</text>
<text x="80" y="238.1" font-size="5.4" text-anchor="middle" fill="#4a5479" class="s" stroke="#4a5479">463</text>
<text x="98" y="238.1" font-size="5.4" text-anchor="middle" fill="#4a5479" class="s" stroke="#4a5479">448</text>
<text x="116" y="238.1" font-size="5.4" text-anchor="middle" fill="#4a5479" class="s" stroke="#4a5479">409</text>
<text x="134" y="238.1" font-size="5.4" text-anchor="middle" fill="#4a5479" class="s" stroke="#4a5479">356</text>
<text x="152" y="238.1" font-size="5.4" text-anchor="middle" fill="#4a5479" class="s" stroke="#4a5479">209</text>
<text x="170" y="238.1" font-size="5.4" text-anchor="middle" fill="#4a5479" class="s" stroke="#4a5479">125</text>
<text x="188" y="238.1" font-size="5.4" text-anchor="middle" fill="#4a5479" class="s" stroke="#4a5479">63</text>
<text x="206" y="238.1" font-size="5.4" text-anchor="middle" fill="#4a5479" class="s" stroke="#4a5479">26</text>
<text x="224" y="238.1" font-size="5.4" text-anchor="middle" fill="#4a5479" class="s" stroke="#4a5479">7</text>
<text x="242" y="238.1" font-size="5.4" text-anchor="middle" fill="#4a5479" class="s" stroke="#4a5479">1</text>
<text x="260" y="238.1" font-size="5.4" text-anchor="middle" fill="#4a5479" class="s" stroke="#4a5479">0</text>
<text x="68.8" y="245.8" font-size="5.2" text-anchor="end" fill="#262626" class="s" stroke="#262626">Vd: CF</text>
<text x="80" y="245.8" font-size="5.4" text-anchor="middle" fill="#a8445a" class="s" stroke="#a8445a">456</text>
<text x="98" y="245.8" font-size="5.4" text-anchor="middle" fill="#a8445a" class="s" stroke="#a8445a">389</text>
<text x="116" y="245.8" font-size="5.4" text-anchor="middle" fill="#a8445a" class="s" stroke="#a8445a">249</text>
<text x="134" y="245.8" font-size="5.4" text-anchor="middle" fill="#a8445a" class="s" stroke="#a8445a">146</text>
<text x="152" y="245.8" font-size="5.4" text-anchor="middle" fill="#a8445a" class="s" stroke="#a8445a">64</text>
<text x="170" y="245.8" font-size="5.4" text-anchor="middle" fill="#a8445a" class="s" stroke="#a8445a">23</text>
<text x="188" y="245.8" font-size="5.4" text-anchor="middle" fill="#a8445a" class="s" stroke="#a8445a">9</text>
<text x="206" y="245.8" font-size="5.4" text-anchor="middle" fill="#a8445a" class="s" stroke="#a8445a">2</text>
<text x="224" y="245.8" font-size="5.4" text-anchor="middle" fill="#a8445a" class="s" stroke="#a8445a">1</text>
<text x="242" y="245.8" font-size="5.4" text-anchor="middle" fill="#a8445a" class="s" stroke="#a8445a">0</text>
<text x="68.8" y="253.3" font-size="5.2" text-anchor="end" fill="#262626" class="s" stroke="#262626">Kd: CF</text>
<text x="80" y="253.3" font-size="5.4" text-anchor="middle" fill="#4a5479" class="s" stroke="#4a5479">463</text>
<text x="98" y="253.3" font-size="5.4" text-anchor="middle" fill="#4a5479" class="s" stroke="#4a5479">412</text>
<text x="116" y="253.3" font-size="5.4" text-anchor="middle" fill="#4a5479" class="s" stroke="#4a5479">341</text>
<text x="134" y="253.3" font-size="5.4" text-anchor="middle" fill="#4a5479" class="s" stroke="#4a5479">242</text>
<text x="152" y="253.3" font-size="5.4" text-anchor="middle" fill="#4a5479" class="s" stroke="#4a5479">126</text>
<text x="170" y="253.3" font-size="5.4" text-anchor="middle" fill="#4a5479" class="s" stroke="#4a5479">64</text>
<text x="188" y="253.3" font-size="5.4" text-anchor="middle" fill="#4a5479" class="s" stroke="#4a5479">32</text>
<text x="206" y="253.3" font-size="5.4" text-anchor="middle" fill="#4a5479" class="s" stroke="#4a5479">8</text>
<text x="224" y="253.3" font-size="5.4" text-anchor="middle" fill="#4a5479" class="s" stroke="#4a5479">1</text>
<text x="242" y="253.3" font-size="5.4" text-anchor="middle" fill="#4a5479" class="s" stroke="#4a5479">0</text>
</g>
<rect x="0" y="0" width="520" height="0.85" fill="#000"/>
<rect x="0" y="0" width="0.95" height="528" fill="#000"/>
<rect x="518.8" y="0" width="1.2" height="528" fill="#000"/>
<rect x="0" y="526.5" width="520" height="1.5" fill="#000"/>
</svg>
</body></html>
